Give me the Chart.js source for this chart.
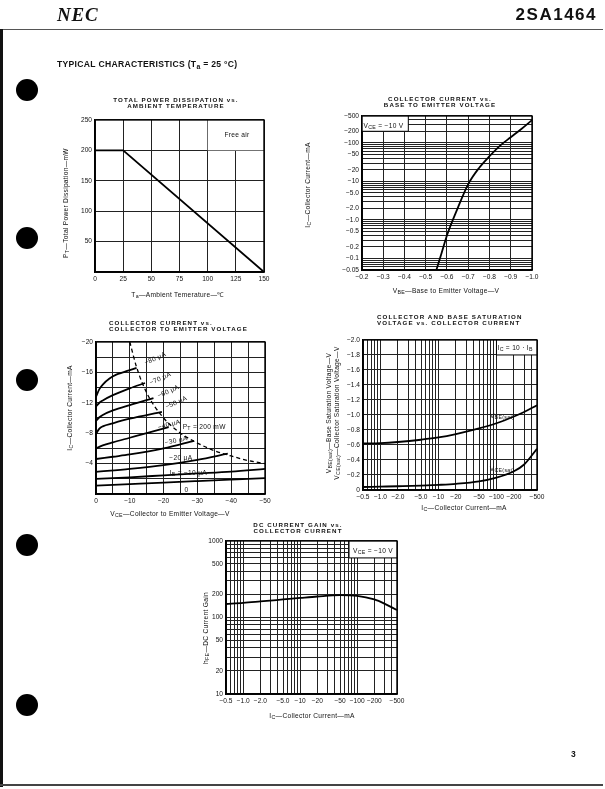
<!DOCTYPE html>
<html>
<head>
<meta charset="utf-8">
<script src="https://cdn.jsdelivr.net/npm/chart.js@4.4.1/dist/chart.umd.min.js"></script>
<style>
  html, body { margin: 0; padding: 0; background: #fff; }
  #page { position: relative; width: 605px; height: 789px; overflow: hidden; filter: grayscale(1);
          font-family: 'Liberation Sans', Arial, sans-serif; color: #111; }
  .abs { position: absolute; white-space: nowrap; }
  .ttl { font-size: 6.2px; font-weight: bold; letter-spacing: 1.1px; line-height: 6.3px; }
  .lbl { font-size: 6.6px; letter-spacing: 0.3px; }
  .note { position: absolute; white-space: nowrap; font-size: 6.6px; letter-spacing: 0.3px; line-height: 7px; }
  sub { font-size: 0.8em; vertical-align: -0.3em; line-height: 0; }
  .hole { position: absolute; width: 22px; height: 22px; border-radius: 50%; background: #000; }
  .wrap { position: absolute; }
  .wrap canvas { position: absolute; left: 0; top: 0; }
</style>
</head>
<body>
<div id="page"></div>
<script>
/* ---------- 資料 ---------- */

// 1. 總功耗 vs 環境溫度
const TA_C = [0, 25, 150];
const PT_MW = [200, 200, 0];

// 2. 集極電流 vs VBE（VCE = -10 V）
const VBE_V = [0.55, 0.575, 0.6, 0.65, 0.7, 0.75, 0.8, 0.85, 0.9, 0.95, 1.0];
const IC_VBE_MA = [0.05, 0.14, 0.4, 2.0, 8.5, 22, 45, 85, 140, 230, 390];

// 3. 集極電流 vs VCE（各 IB 曲線）
const IB0_VCE = [0, 10, 20, 30, 40, 50];
const IB0_IC = [1.1, 1.3, 1.5, 1.7, 1.9, 2.1];
const IB10_VCE = [0, 10, 20, 30, 40, 50];
const IB10_IC = [2.0, 2.2, 2.45, 2.7, 2.95, 3.3];
const IB20_VCE = [0, 10, 20, 30, 39];
const IB20_IC = [2.9, 3.3, 3.8, 4.5, 5.3];
const IB30_VCE = [0, 5, 10, 20, 29];
const IB30_IC = [4.6, 4.9, 5.2, 6.0, 7.0];
const IB40_VCE = [0, 2, 5, 10, 15, 21.5];
const IB40_IC = [6.0, 6.4, 6.8, 7.4, 8.0, 8.8];
const IB50_VCE = [0, 1, 2, 5, 10, 19.5];
const IB50_IC = [7.9, 8.6, 8.9, 9.3, 9.9, 10.8];
const IB60_VCE = [0, 1, 2, 5, 10, 17];
const IB60_IC = [9.6, 10.1, 10.4, 11.0, 11.7, 12.6];
const IB70_VCE = [0, 1, 2, 5, 10, 14.5];
const IB70_IC = [11.5, 12.0, 12.3, 13.0, 13.9, 14.6];
const IB80_VCE = [0, 1, 2, 4, 6, 8, 10, 12];
const IB80_IC = [12.8, 13.8, 14.4, 15.2, 15.7, 16.0, 16.3, 16.6];
const PT200_VCE = [10, 12, 15, 20, 25, 30, 35, 40, 45, 50];
const PT200_IC = [20, 16.7, 13.3, 10, 8, 6.7, 5.7, 5, 4.4, 4];

// 4. 飽和電壓 vs 集極電流
const IC_SAT_MA = [0.5, 1, 2, 5, 10, 20, 50, 100, 200, 300, 500];
const VBE_SAT_V = [0.62, 0.625, 0.64, 0.67, 0.70, 0.745, 0.82, 0.89, 0.98, 1.04, 1.13];
const VCE_SAT_V = [0.04, 0.045, 0.05, 0.058, 0.068, 0.082, 0.115, 0.165, 0.25, 0.34, 0.55];

// 5. 直流電流增益 vs 集極電流
const IC_HFE_MA = [0.5, 1, 2, 5, 10, 20, 50, 100, 200, 300, 500];
const HFE = [150, 155, 162, 172, 180, 188, 196, 192, 172, 152, 125];

// 刻度標籤
const TA_TICKS = [0, 25, 50, 75, 100, 125, 150];
const PT_TICKS = [50, 100, 150, 200, 250];
const VBE_TICKS = [0.2, 0.3, 0.4, 0.5, 0.6, 0.7, 0.8, 0.9, 1.0];
const VBE_TICK_TEXT = ['−0.2', '−0.3', '−0.4', '−0.5', '−0.6', '−0.7', '−0.8', '−0.9', '−1.0'];
const IC_LOG_TICKS = [0.05, 0.1, 0.2, 0.5, 1, 2, 5, 10, 20, 50, 100, 200, 500];
const IC_LOG_TEXT = ['−0.05', '−0.1', '−0.2', '−0.5', '−1.0', '−2.0', '−5.0', '−10', '−20', '−50', '−100', '−200', '−500'];
const VCE_TICKS = [0, 10, 20, 30, 40, 50];
const VCE_TICK_TEXT = ['0', '−10', '−20', '−30', '−40', '−50'];
const IC_LIN_TICKS = [4, 8, 12, 16, 20];
const IC_LIN_TEXT = ['−4', '−8', '−12', '−16', '−20'];
const ICX_TICKS = [0.5, 1, 2, 5, 10, 20, 50, 100, 200, 500];
const ICX_TEXT = ['−0.5', '−1.0', '−2.0', '−5.0', '−10', '−20', '−50', '−100', '−200', '−500'];
const VSAT_TICKS = [0, 0.2, 0.4, 0.6, 0.8, 1.0, 1.2, 1.4, 1.6, 1.8, 2.0];
const VSAT_TEXT = ['0', '−0.2', '−0.4', '−0.6', '−0.8', '−1.0', '−1.2', '−1.4', '−1.6', '−1.8', '−2.0'];
const HFE_TICKS = [10, 20, 50, 100, 200, 500, 1000];
const HFE_TEXT = ['10', '20', '50', '100', '200', '500', '1000'];

/* ---------- 共用設定 ---------- */

Chart.defaults.font.family = "'Liberation Sans', Arial, sans-serif";
Chart.defaults.font.size = 6.6;
Chart.defaults.color = '#111';

const PAD = { l: 30, r: 16, t: 6, b: 13 };
const GRID = { color: '#222', lineWidth: 1, drawTicks: false };
const BORDER = { display: true, color: '#000', width: 1.4 };

const page = document.getElementById('page');

/** 放置 HTML 文字 */
function put(html, x, y, cls, anchor, extra) {
  const d = document.createElement('div');
  d.className = 'abs ' + (cls || '');
  d.innerHTML = html;
  d.style.left = x + 'px';
  d.style.top = y + 'px';
  let tf = anchor === 'l' ? 'translate(0,-50%)' : 'translate(-50%,-50%)';
  if (anchor === 'r') tf = 'translate(-100%,-50%)';
  if (anchor === 'rot') tf = 'translate(-50%,-50%) rotate(-90deg)';
  d.style.transform = tf;
  if (extra) Object.assign(d.style, extra);
  page.appendChild(d);
  return d;
}

/** 頁面色塊（框線） */
function rule(left, top, width, height, color) {
  const d = document.createElement('div');
  d.className = 'abs';
  Object.assign(d.style, { left: left + 'px', top: top + 'px', width: width + 'px', height: height + 'px', background: color });
  page.appendChild(d);
}

/** 依數值查標籤 */
function lookup(values, texts) {
  return (v) => {
    const i = values.findIndex(t => Math.abs(v - t) < Math.abs(t) * 1e-6 + 1e-9);
    return i >= 0 ? texts[i] : '';
  };
}

/** 對數格線（每個十進位 1..9） */
function logLines(min, max) {
  const out = [];
  for (let e = -3; e <= 4; e++) {
    for (let s = 1; s <= 9; s++) {
      const v = Number((s * Math.pow(10, e)).toPrecision(6));
      if (v >= min * 0.999 && v <= max * 1.001) out.push(v);
    }
  }
  return out;
}

function linAxis(min, max, step, values, texts) {
  return {
    type: 'linear', min, max,
    ticks: { stepSize: step, callback: lookup(values, texts), autoSkip: false, maxRotation: 0, minRotation: 0, padding: 3 },
    grid: GRID, border: BORDER
  };
}

function logAxis(min, max, values, texts) {
  const lines = logLines(min, max);
  return {
    type: 'logarithmic', min, max,
    afterBuildTicks: (s) => { s.ticks = lines.map(v => ({ value: v })); },
    ticks: { callback: lookup(values, texts), autoSkip: false, maxRotation: 0, minRotation: 0, padding: 3 },
    grid: GRID, border: BORDER
  };
}

function pts(xs, ys) {
  return xs.map((x, i) => ({ x, y: ys[i] }));
}

function curve(xs, ys, extra) {
  return Object.assign({
    data: pts(xs, ys), borderColor: '#000', borderWidth: 1.8,
    pointRadius: 0, tension: 0, cubicInterpolationMode: 'monotone', fill: false
  }, extra || {});
}

/** 白底遮罩 + 外框 + 圖內註解 */
const sheetPlugin = {
  id: 'sheet',
  beforeDatasetsDraw(chart) {
    const { ctx, chartArea: a, scales: { x, y } } = chart;
    const o = chart.options.plugins.sheet || {};
    ctx.save();
    (o.masks || []).forEach(m => {
      const x0 = x.getPixelForValue(m.x0), x1 = x.getPixelForValue(m.x1);
      const y0 = y.getPixelForValue(m.y0), y1 = y.getPixelForValue(m.y1);
      ctx.fillStyle = '#fff';
      ctx.fillRect(Math.min(x0, x1), Math.min(y0, y1), Math.abs(x1 - x0), Math.abs(y1 - y0));
      ctx.strokeStyle = '#000';
      ctx.lineWidth = 1;
      ctx.beginPath();
      if (m.edges.includes('l')) { ctx.moveTo(x0, y0); ctx.lineTo(x0, y1); }
      if (m.edges.includes('r')) { ctx.moveTo(x1, y0); ctx.lineTo(x1, y1); }
      if (m.edges.includes('b')) { ctx.moveTo(x0, y0); ctx.lineTo(x1, y0); }
      ctx.stroke();
    });
    ctx.strokeStyle = '#000';
    ctx.lineWidth = 1.4;
    ctx.strokeRect(a.left, a.top, a.right - a.left, a.bottom - a.top);
    ctx.restore();
  },
  afterRender(chart) {
    if (chart.$notesDone) return;
    chart.$notesDone = true;
    const o = chart.options.plugins.sheet || {};
    const wrap = chart.canvas.parentNode;
    (o.notes || []).forEach(n => {
      const d = document.createElement('div');
      d.className = 'note';
      d.innerHTML = n.html;
      d.style.left = chart.scales.x.getPixelForValue(n.x) + 'px';
      d.style.top = chart.scales.y.getPixelForValue(n.y) + 'px';
      const base = n.anchor === 'l' ? 'translate(0,-50%)' : 'translate(-50%,-50%)';
      d.style.transform = base + (n.rot ? ` rotate(${n.rot}deg)` : '');
      wrap.appendChild(d);
    });
  }
};

/** 建立一張圖，box 為繪圖區在頁面上的位置 */
function makeChart(box, datasets, xAxis, yAxis, sheet) {
  const w = box.right - box.left + PAD.l + PAD.r;
  const h = box.bottom - box.top + PAD.t + PAD.b;
  const wrap = document.createElement('div');
  wrap.className = 'wrap';
  wrap.style.left = (box.left - PAD.l) + 'px';
  wrap.style.top = (box.top - PAD.t) + 'px';
  wrap.style.width = w + 'px';
  wrap.style.height = h + 'px';
  const canvas = document.createElement('canvas');
  canvas.width = w;
  canvas.height = h;
  canvas.style.width = w + 'px';
  canvas.style.height = h + 'px';
  wrap.appendChild(canvas);
  page.appendChild(wrap);

  xAxis.afterFit = (s) => { s.height = PAD.b; };
  yAxis.afterFit = (s) => { s.width = PAD.l; };

  return new Chart(canvas, {
    type: 'line',
    data: { datasets },
    options: {
      responsive: false,
      animation: false,
      devicePixelRatio: 1,
      parsing: false,
      layout: { padding: { left: 0, right: PAD.r, top: PAD.t, bottom: 0 } },
      scales: { x: xAxis, y: yAxis },
      plugins: { legend: { display: false }, tooltip: { enabled: false }, sheet }
    },
    plugins: [sheetPlugin]
  });
}

/* ---------- 頁面框線與文字 ---------- */

put('NEC', 57, 15, '', 'l', { font: "italic bold 19px 'Liberation Serif', serif", letterSpacing: '0.8px' });
put('2SA1464', 597, 15, '', 'r', { font: "bold 17px 'Liberation Sans', sans-serif", letterSpacing: '1.5px' });
rule(0, 29, 603, 1.3, '#555');
rule(0, 29, 3, 758, '#111');
rule(0, 784, 603, 2, '#444');
put('TYPICAL CHARACTERISTICS (T<sub>a</sub> = 25 °C)', 57, 64, '', 'l', { font: "bold 8.6px 'Liberation Sans', sans-serif", letterSpacing: '0.3px' });
put('3', 571, 754, '', 'l', { font: "bold 8.5px 'Liberation Sans', sans-serif" });
[90, 238, 380, 545, 705].forEach(cy => {
  const d = document.createElement('div');
  d.className = 'hole';
  d.style.left = (27 - 11) + 'px';
  d.style.top = (cy - 11) + 'px';
  page.appendChild(d);
});

/* ---------- 1. 總功耗 ---------- */
put('TOTAL POWER DISSIPATION vs.<br>AMBIENT TEMPERATURE', 176, 103, 'ttl', 'c', { textAlign: 'center' });
put('P<sub>T</sub>—Total Power Dissipation—mW', 65, 203, 'lbl', 'rot');
put('T<sub>a</sub>—Ambient Temerature—℃', 178, 294, 'lbl', 'c');
makeChart(
  { left: 95, right: 264, top: 119, bottom: 272 },
  [curve(TA_C, PT_MW, { cubicInterpolationMode: 'default' })],
  linAxis(0, 150, 25, TA_TICKS, TA_TICKS.map(String)),
  linAxis(0, 250, 50, PT_TICKS, PT_TICKS.map(String)),
  {
    masks: [{ x0: 100, x1: 150, y0: 200, y1: 250, edges: '' }],
    notes: [{ x: 126, y: 227, html: 'Free air' }]
  }
);

/* ---------- 2. IC vs VBE ---------- */
put('COLLECTOR CURRENT vs.<br>BASE TO EMITTER VOLTAGE', 440, 102, 'ttl', 'c', { textAlign: 'center' });
put('I<sub>C</sub>—Collector Current—mA', 307, 185, 'lbl', 'rot');
put('V<sub>BE</sub>—Base to Emitter Voltage—V', 446, 290, 'lbl', 'c');
makeChart(
  { left: 362, right: 532, top: 115, bottom: 270 },
  [curve(VBE_V, IC_VBE_MA)],
  linAxis(0.2, 1.0, 0.1, VBE_TICKS, VBE_TICK_TEXT),
  logAxis(0.05, 500, IC_LOG_TICKS, IC_LOG_TEXT),
  {
    masks: [{ x0: 0.2, x1: 0.418, y0: 200, y1: 500, edges: 'rb' }],
    notes: [{ x: 0.207, y: 290, html: 'V<sub>CE</sub> = −10 V', anchor: 'l' }]
  }
);

/* ---------- 3. IC vs VCE ---------- */
put('COLLECTOR CURRENT vs.<br>COLLECTOR TO EMITTER VOLTAGE', 109, 325.5, 'ttl', 'l');
put('I<sub>C</sub>—Collector Current—mA', 69, 408, 'lbl', 'rot');
put('V<sub>CE</sub>—Collector to Emitter Voltage—V', 170, 513, 'lbl', 'c');
makeChart(
  { left: 96, right: 265, top: 341, bottom: 494 },
  [
    curve(IB0_VCE, IB0_IC), curve(IB10_VCE, IB10_IC), curve(IB20_VCE, IB20_IC),
    curve(IB30_VCE, IB30_IC), curve(IB40_VCE, IB40_IC), curve(IB50_VCE, IB50_IC),
    curve(IB60_VCE, IB60_IC), curve(IB70_VCE, IB70_IC), curve(IB80_VCE, IB80_IC),
    curve(PT200_VCE, PT200_IC, { borderWidth: 1.3, borderDash: [4, 3] })
  ],
  linAxis(0, 50, 5, VCE_TICKS, VCE_TICK_TEXT),
  linAxis(0, 20, 2, IC_LIN_TICKS, IC_LIN_TEXT),
  {
    notes: [
      { x: 17.5, y: 17.9, html: '−80 μA', rot: -24 },
      { x: 18.9, y: 15.3, html: '−70 μA', rot: -24 },
      { x: 21.2, y: 13.6, html: '−60 μA', rot: -24 },
      { x: 23.6, y: 12.1, html: '−50 μA', rot: -24 },
      { x: 21.6, y: 9.2, html: '−40 μA', rot: -15 },
      { x: 32, y: 9.0, html: 'P<sub>T</sub> = 200 mW' },
      { x: 23.6, y: 7.1, html: '−30 μA', rot: -12 },
      { x: 25.1, y: 4.9, html: '−20 μA' },
      { x: 27.3, y: 2.9, html: 'I<sub>B</sub> = −10 μA' },
      { x: 26.8, y: 0.65, html: '0' }
    ]
  }
);

/* ---------- 4. 飽和電壓 ---------- */
put('COLLECTOR AND BASE SATURATION<br>VOLTAGE vs. COLLECTOR CURRENT', 377, 320, 'ttl', 'l');
put('V<sub>BE(sat)</sub>—Base Saturation Voltage—V', 328, 413, 'lbl', 'rot');
put('V<sub>CE(sat)</sub>—Collector Saturation Voltage—V', 336, 413, 'lbl', 'rot');
put('I<sub>C</sub>—Collector Current—mA', 464, 507, 'lbl', 'c');
makeChart(
  { left: 363, right: 537, top: 339, bottom: 490 },
  [curve(IC_SAT_MA, VBE_SAT_V), curve(IC_SAT_MA, VCE_SAT_V)],
  logAxis(0.5, 500, ICX_TICKS, ICX_TEXT),
  linAxis(0, 2.0, 0.2, VSAT_TICKS, VSAT_TEXT),
  {
    masks: [{ x0: 100, x1: 500, y0: 1.8, y1: 2.0, edges: 'lb' }],
    notes: [
      { x: 210, y: 1.9, html: 'I<sub>C</sub> = 10 · I<sub>B</sub>' },
      { x: 125, y: 1.0, html: 'V<sub>BE(sat)</sub>' },
      { x: 125, y: 0.29, html: 'V<sub>CE(sat)</sub>' }
    ]
  }
);

/* ---------- 5. 直流電流增益 ---------- */
put('DC CURRENT GAIN vs.<br>COLLECTOR CURRENT', 298, 528, 'ttl', 'c', { textAlign: 'center' });
put('h<sub>FE</sub>—DC Current Gain', 205, 628, 'lbl', 'rot');
put('I<sub>C</sub>—Collector Current—mA', 312, 715, 'lbl', 'c');
makeChart(
  { left: 226, right: 397, top: 540, bottom: 694 },
  [curve(IC_HFE_MA, HFE)],
  logAxis(0.5, 500, ICX_TICKS, ICX_TEXT),
  logAxis(10, 1000, HFE_TICKS, HFE_TEXT),
  {
    masks: [{ x0: 72, x1: 500, y0: 600, y1: 1000, edges: 'lb' }],
    notes: [{ x: 190, y: 760, html: 'V<sub>CE</sub> = −10 V' }]
  }
);
</script>
</body>
</html>
